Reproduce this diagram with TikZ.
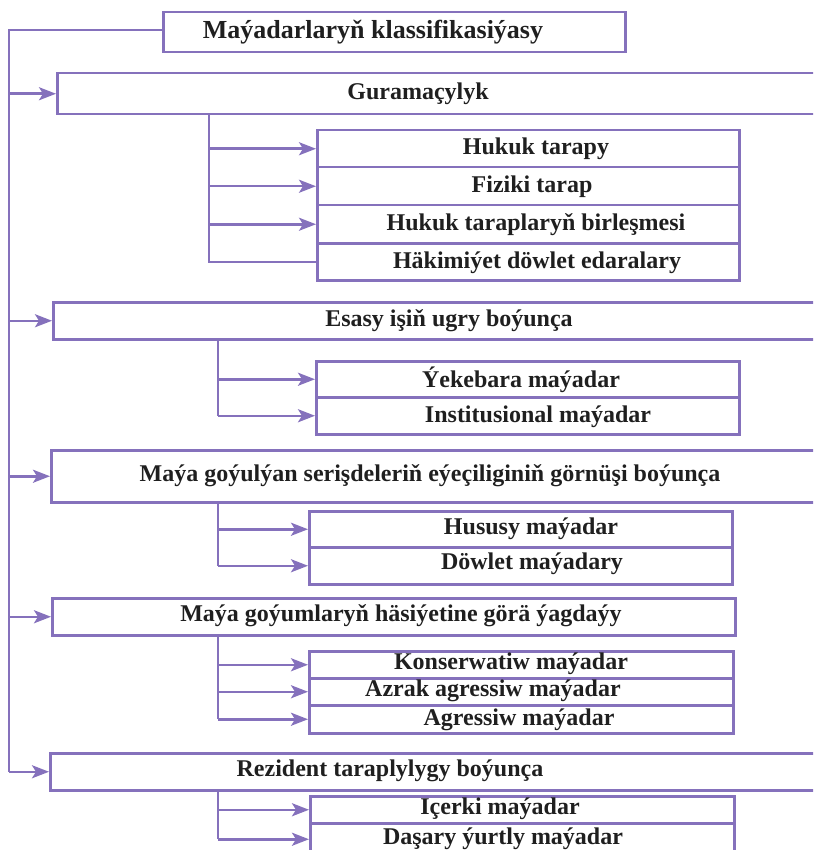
\documentclass[tikz,border=0pt]{standalone}
\usepackage{fontspec}
\setmainfont{Liberation Serif}
\usetikzlibrary{arrows.meta}
\definecolor{vi}{RGB}{133,113,188}
\begin{document}
\begin{tikzpicture}[x=1pt,y=-1pt,
  box/.style={draw=vi, line width=2.5pt, rectangle, inner sep=0pt, anchor=north west},
  lbl/.style={font=\fontsize{24}{27}\selectfont\bfseries, text=black!88, inner sep=0pt},
  ttl/.style={font=\fontsize{26}{30}\selectfont\bfseries, text=black!88, inner sep=0pt},
  arr/.style={draw=vi, line width=2.5pt, -{Stealth[length=17pt,width=13pt,inset=4pt]}},
  ln/.style={draw=vi, line width=2.5pt}]
\useasboundingbox (0,0) rectangle (813,850);
\clip (0,0) rectangle (813,850);
% boxes
\node[box, minimum width=462pt, minimum height=40pt] (title) at (162,11) {};
\node[box, minimum width=780pt, minimum height=41pt] (c1) at (56,72) {};
\node[box, minimum width=422pt, minimum height=37pt] (s11) at (316,129) {};
\node[box, minimum width=422pt, minimum height=38pt] (s12) at (316,166) {};
\node[box, minimum width=422pt, minimum height=38pt] (s13) at (316,204) {};
\node[box, minimum width=422pt, minimum height=37pt] (s14) at (316,242) {};
\node[box, minimum width=780pt, minimum height=37pt] (c2) at (52,301) {};
\node[box, minimum width=423pt, minimum height=36pt] (s21) at (315,360) {};
\node[box, minimum width=423pt, minimum height=37pt] (s22) at (315,396) {};
\node[box, minimum width=780pt, minimum height=52pt] (c3) at (50,449) {};
\node[box, minimum width=423pt, minimum height=36pt] (s31) at (308,510) {};
\node[box, minimum width=423pt, minimum height=37pt] (s32) at (308,546) {};
\node[box, minimum width=683pt, minimum height=37pt] (c4) at (51,597) {};
\node[box, minimum width=424pt, minimum height=27pt] (s41) at (308,650) {};
\node[box, minimum width=424pt, minimum height=27pt] (s42) at (308,677) {};
\node[box, minimum width=424pt, minimum height=28pt] (s43) at (308,704) {};
\node[box, minimum width=780pt, minimum height=37pt] (c5) at (49,752) {};
\node[box, minimum width=424pt, minimum height=27pt] (s51) at (309,795) {};
\node[box, minimum width=424pt, minimum height=32pt] (s52) at (309,822) {};
% texts
\node[ttl] (t0) at (373,32) {Maýadarlaryň klassifikasiýasy};
\node[lbl] (t1) at (418,94) {Guramaçylyk};
\node[lbl] (t11) at (536,149) {Hukuk tarapy};
\node[lbl] (t12) at (532,187) {Fiziki tarap};
\node[lbl] (t13) at (536,225) {Hukuk taraplaryň birleşmesi};
\node[lbl] (t14) at (537,263) {Häkimiýet döwlet edaralary};
\node[lbl] (t2) at (449,321) {Esasy işiň ugry boýunça};
\node[lbl] (t21) at (521,380) {Ýekebara maýadar};
\node[lbl] (t22) at (538,417) {Institusional maýadar};
\node[lbl] (t3) at (430,476) {Maýa goýulýan serişdeleriň eýeçiliginiň görnüşi boýunça};
\node[lbl] (t31) at (531,529) {Hususy maýadar};
\node[lbl] (t32) at (532,564) {Döwlet maýadary};
\node[lbl] (t4) at (401,616) {Maýa goýumlaryň häsiýetine görä ýagdaýy};
\node[lbl] (t41) at (511,664) {Konserwatiw maýadar};
\node[lbl] (t42) at (493,691) {Azrak agressiw maýadar};
\node[lbl] (t43) at (519,720) {Agressiw maýadar};
\node[lbl] (t5) at (390,771) {Rezident taraplylygy boýunça};
\node[lbl] (t51) at (500,809) {Içerki maýadar};
\node[lbl] (t52) at (503,839) {Daşary ýurtly maýadar};
% trunk
\coordinate (tr) at (9,30);
\coordinate (b1) at (209,0);
\coordinate (b2) at (218,0);
\draw[ln] (title.west |- tr) -- (tr) -- (tr |- c5.west);
\foreach \c in {c1,c2,c3,c4,c5} \draw[arr] (tr |- \c.west) -- (\c.west);
% group 1
\draw[ln] (b1 |- c1.south) |- (s14.west);
\foreach \s in {s11,s12,s13} \draw[arr] (b1 |- \s.west) -- (\s.west);
% group 2
\draw[ln] (b2 |- c2.south) -- (b2 |- s22.west);
\foreach \s in {s21,s22} \draw[arr] (b2 |- \s.west) -- (\s.west);
% group 3
\draw[ln] (b2 |- c3.south) -- (b2 |- s32.west);
\foreach \s in {s31,s32} \draw[arr] (b2 |- \s.west) -- (\s.west);
% group 4
\draw[ln] (b2 |- c4.south) -- (b2 |- s43.west);
\foreach \s in {s41,s42,s43} \draw[arr] (b2 |- \s.west) -- (\s.west);
% group 5
\draw[ln] (b2 |- c5.south) -- (b2 |- s52.west);
\foreach \s in {s51,s52} \draw[arr] (b2 |- \s.west) -- (\s.west);
\end{tikzpicture}
\end{document}
